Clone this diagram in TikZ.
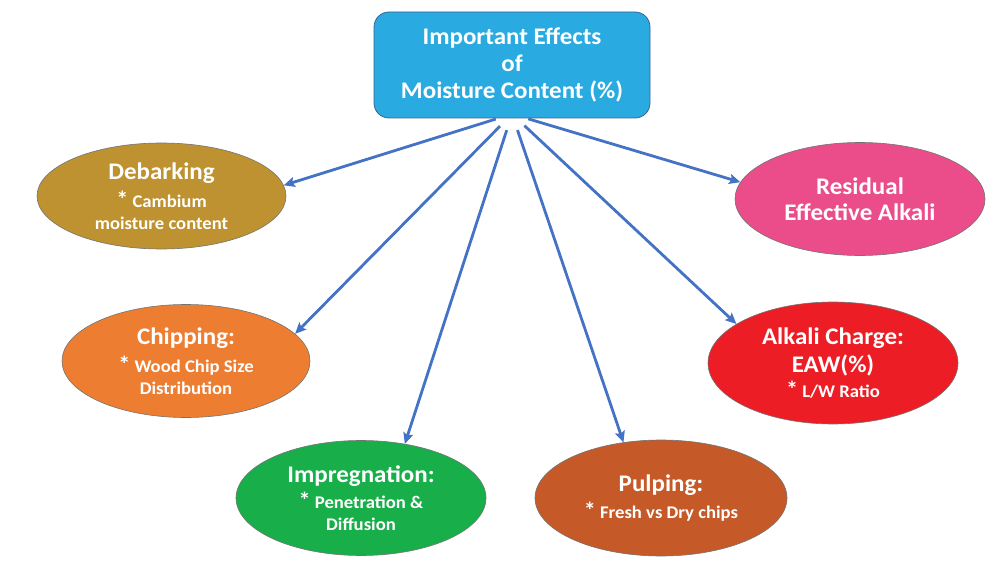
\documentclass[tikz,border=0pt]{standalone}
\usepackage{fontspec}
\setmainfont{Carlito}[FakeStretch=1.05]
\usetikzlibrary{arrows.meta,shapes.geometric}
\definecolor{topblue}{RGB}{41,171,226}
\definecolor{topedge}{RGB}{60,100,140}
\definecolor{debcol}{RGB}{190,146,48}
\definecolor{rescol}{RGB}{234,77,138}
\definecolor{chipcol}{RGB}{237,125,49}
\definecolor{alkcol}{RGB}{236,29,37}
\definecolor{impcol}{RGB}{24,175,75}
\definecolor{pulpcol}{RGB}{197,90,40}
\definecolor{arrowcol}{RGB}{68,114,196}
\newcommand{\hdrfont}{\fontsize{23.8}{27}\selectfont\bfseries}
\newcommand{\subfont}{\fontsize{17.8}{22}\selectfont\bfseries}
\newcommand{\bul}{{\fontsize{23}{22}\selectfont*}}

\begin{document}
\begin{tikzpicture}[x=1pt,y=1pt,>={Stealth[length=11pt,width=10pt,inset=2pt]},
  effect/.style={ellipse,draw=black!55,line width=0.6pt,inner sep=0pt,
    text=white,align=center,font=\subfont},
  link/.style={->,arrowcol,line width=2.8pt,shorten <=17pt}]
  \useasboundingbox (0,0) rectangle (996,566);
  % central box
  \node[rectangle,rounded corners=15pt,fill=topblue,draw=topedge,line width=0.8pt,
    minimum width=276pt,minimum height=106pt,text=white,align=center,font=\hdrfont]
    (moist) at (512,501) {Important Effects\\of\\Moisture Content (\%)};
  \coordinate (hub) at (512,452);
  % effects
  \node[effect,fill=debcol,minimum width=249pt,minimum height=106pt]
    (deb) at (161.5,370) {{\hdrfont Debarking}\\[6pt]\bul{} Cambium\\moisture content};
  \node[effect,fill=rescol,minimum width=250pt,minimum height=113pt,font=\hdrfont]
    (res) at (860,367) {Residual\\[-1pt]Effective Alkali};
  \node[effect,fill=chipcol,minimum width=248pt,minimum height=113pt]
    (chip) at (186,205) {{\hdrfont Chipping:}\\[6pt]\bul{} Wood Chip Size\\Distribution};
  \node[effect,fill=alkcol,minimum width=250pt,minimum height=122pt]
    (alk) at (833,203) {{\hdrfont Alkali Charge:}\\[6pt]{\hdrfont EAW(\%)}\\[3pt]\bul{} L/W Ratio};
  \node[effect,fill=impcol,minimum width=250pt,minimum height=115pt]
    (imp) at (361,68) {{\hdrfont Impregnation:}\\[4pt]\bul{} Penetration \&\\Diffusion};
  \node[effect,fill=pulpcol,minimum width=252pt,minimum height=116pt]
    (pulp) at (661,68) {{\hdrfont Pulping:}\\[5pt]\bul{} Fresh vs Dry chips};
  % arrows
  \draw[link] (hub) -- (deb.5);
  \draw[link] (hub) -- (chip.14);
  \draw[link] (hub) -- (imp.51);
  \draw[link] (hub) -- (pulp.124);
  \draw[link] (hub) -- (alk.158);
  \draw[link] (hub) -- (res.172);
\end{tikzpicture}
\end{document}
